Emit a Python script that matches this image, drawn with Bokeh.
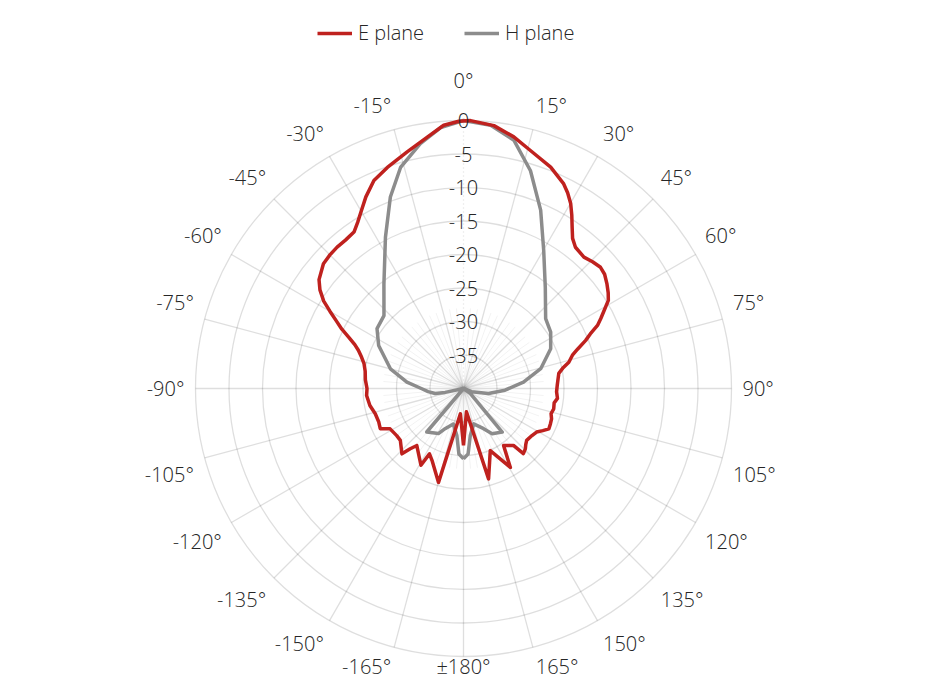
import numpy as np
from bokeh.plotting import figure
from bokeh.models import ColumnDataSource, Legend, LegendItem, Range1d
from bokeh.core.properties import value, field
from bokeh.embed import file_html
from bokeh.resources import INLINE

# ---------------- data (angle in degrees, clockwise from top; level in dB) -------------
e_angle = [-180, -173, -165.1, -156.3, -152.5, -151, -140.7, -138.5, -136.7, -129.4, -125.2,
           -118.8, -115.8, -111.6, -106, -100.3, -94.1, -90, -85, -80, -76, -73, -70,
           -68, -66, -64, -62, -60, -58, -55.5, -53, -48.3, -45, -41.8, -38.5, -35,
           -32.5, -30.5, -27, -23.3, -19, -13.4, -8.2, -4.3, -1, 1.5, 6.6, 11.3, 15.7,
           21.5, 26.1, 28, 30.1, 32, 34, 36, 38.4, 42.5, 45.5, 48.5, 51, 53.9, 56.5,
           58.7, 61, 63, 64.8, 66.7, 68.5, 71, 73, 76, 78.5, 81, 84, 88, 92, 96, 99,
           102.7, 106, 109, 112, 115.3, 118, 120.8, 124.5, 129.4, 132, 134.3, 137.4,
           138.7, 144.9, 149.3, 156.7, 164.5, 172.8, 180]
e_db = [-31.5, -36.2, -25.5, -28.3, -29.0, -26.9, -29.0, -28.0, -26.6, -27.8, -27.8,
        -27.5, -26.2, -26.4, -26.3, -25.8, -25.5, -25.6, -25.3, -25.1, -24.7, -24.1, -23.3,
        -22.5, -21.3, -19.8, -18.5, -17.0, -15.4, -14.0, -13.0, -12.0, -11.8, -11.7, -11.7, -11.5,
        -10.6, -9.7, -7.9, -6.2, -5.1, -3.7, -2.1, -0.6, -0.1, 0.0, -0.5, -1.7, -3.1,
        -4.5, -6.0, -6.9, -8.1, -9.5, -11.0, -12.3, -13.1, -13.4, -13.0, -12.7, -12.9, -13.5, -14.1,
        -14.7, -16.0, -17.0, -17.9, -19.4, -20.4, -22.0, -23.0, -23.8, -24.9, -25.6, -25.8, -26.0, -26.1, -25.9, -26.3,
        -26.2, -26.4, -26.1, -26.0, -25.9, -26.6, -27.3, -27.6, -27.8, -27.5, -27.1, -26.8,
        -28.7, -29.6, -26.3, -29.9, -26.0, -36.5, -31.5]

h_angle = [-180, -176, -172, -164, -155.4, -150.9, -139.8, -138.8, -103, -102, -100,
           -95, -90, -83.6, -74.9, -63.1, -55.3, -47.5, -37.3, -27.3, -20.9, -15.9, -10,
           -5, 0, 5.9, 11.5, 17.1, 23.4, 30.2, 39, 49.6, 57.1, 65.5, 75.6, 84, 92.3,
           101.3, 111.4, 118, 126.7, 138.4, 147.7, 153.4, 164, 171.8, 176, 180]
h_db = [-29.5, -30.2, -32.9, -34.5, -33.4, -32.3, -31.5, -40.0, -40.0, -37.2, -35.7,
        -34.7, -33.7, -31.5, -28.7, -25.8, -24.3, -23.9, -20.4, -14.6, -9.4, -5.7, -2.9,
        -0.9, 0.0, -0.5, -2.2, -6.0, -11.0, -16.2, -20.6, -23.9, -24.5, -25.7, -28.1, -31.0, -33.8,
        -36.2, -38.7, -40.0, -38.7, -31.3, -32.0, -33.3, -34.5, -32.9, -30.2, -29.5]

radial_ticks = [0, -5, -10, -15, -20, -25, -30, -35]
radial_labels = ["0", "-5", "-10", "-15", "-20", "-25", "-30", "-35"]
angle_ticks = [0, 15, 30, 45, 60, 75, 90, 105, 120, 135, 150, 165, 180,
               -165, -150, -135, -120, -105, -90, -75, -60, -45, -30, -15]
angle_labels = ["0°", "15°", "30°", "45°", "60°", "75°", "90°", "105°", "120°", "135°",
                "150°", "165°", "±180°", "-165°", "-150°", "-135°", "-120°", "-105°",
                "-90°", "-75°", "-60°", "-45°", "-30°", "-15°"]
series_names = ["E plane", "H plane"]
series_colors = ["#bf211e", "#8c8c8c"]

# ---------------- geometry ----------------
R = 268.0          # radius of the 0 dB circle in px (data units = px)
DB_MIN, DB_MAX = -40.0, 0.0
FONT_NAME = "'Open Sans Light', 'Open Sans'"
FONT = value(FONT_NAME)
TXT = "#262626"
W, H = 914, 680
CX, CY = 463, 388   # centre of the polar grid in px from top-left


def to_xy(ang, db):
    t = np.deg2rad(np.asarray(ang, dtype=float))
    r = (np.clip(np.asarray(db, dtype=float), DB_MIN, DB_MAX) - DB_MIN) / (DB_MAX - DB_MIN) * R
    return r * np.sin(t), r * np.cos(t)


p = figure(width=W, height=H, x_range=Range1d(-CX, W - CX), y_range=Range1d(-(H - CY), CY),
           output_backend="svg", toolbar_location=None, min_border=0,
           background_fill_color="white", border_fill_color="white")
p.axis.visible = False
p.grid.visible = False
p.outline_line_color = None

# grid circles
radii = [(t - DB_MIN) / (DB_MAX - DB_MIN) * R for t in radial_ticks]
p.circle(x=[0] * len(radii), y=[0] * len(radii), radius=radii, fill_color=None,
         line_color="black", line_alpha=0.13, line_width=1.3)

# faint minor spokes (visible only where they converge)
minor = [a for a in range(0, 360, 5) if a % 15]
mt = np.deg2rad(minor)
p.segment(x0=0, y0=0, x1=list(R * 0.3 * np.sin(mt)), y1=list(R * 0.3 * np.cos(mt)),
          line_color="black", line_alpha=0.05, line_width=1)

# major spokes
st = np.deg2rad([a for a in angle_ticks if a != 0])
p.segment(x0=0, y0=0, x1=list(R * np.sin(st)), y1=list(R * np.cos(st)),
          line_color="black", line_alpha=0.13, line_width=1.3)
p.segment(x0=[0], y0=[0], x1=[0], y1=[R], line_color="black", line_alpha=0.13,
          line_width=1.3, line_dash="1 3")

# series
hx, hy = to_xy(h_angle, h_db)
ex, ey = to_xy(e_angle, e_db)
r_h = p.line(hx, hy, line_color=series_colors[1], line_width=3.5, line_join="round")
r_e = p.line(ex, ey, line_color=series_colors[0], line_width=3.5, line_join="round")

# radial labels
p.text(x=[0] * len(radii), y=radii, text=radial_labels, text_font=FONT,
       text_font_size="20px", text_color=TXT, text_align="center", text_baseline="middle")

# angle labels
lx, ly, aligns, bases = [], [], [], []
for a in angle_ticks:
    t = np.deg2rad(a)
    s, c = np.sin(t), np.cos(t)
    rr = R + (27 if a == 0 else 11)
    aligns.append("left" if s > 1e-6 else ("right" if s < -1e-6 else "center"))
    lx.append(rr * s)
    if c < -0.95:                       # bottom-most labels: keep inside the canvas
        bases.append("bottom")
        ly.append(-(H - CY) + 1)
    else:
        bases.append("bottom" if c > 1e-6 else ("top" if c < -1e-6 else "middle"))
        ly.append(rr * c)
asrc = ColumnDataSource(dict(x=lx, y=ly, text=angle_labels, align=aligns, base=bases))
p.text(x="x", y="y", text="text", source=asrc, text_font=FONT, text_font_size="20px",
       text_color=TXT, text_align=field("align"), text_baseline=field("base"))

legend = Legend(items=[LegendItem(label=series_names[0], renderers=[r_e]),
                       LegendItem(label=series_names[1], renderers=[r_h])],
                orientation="horizontal", location="top_center",
                label_text_font=FONT_NAME, label_text_font_size="20px", label_text_color=TXT,
                glyph_width=35, glyph_height=20, label_standoff=6, spacing=14,
                label_width=92, padding=0, margin=19, border_line_color=None,
                background_fill_alpha=0)
p.add_layout(legend)

open("out.html", "w").write(file_html(p, INLINE))
